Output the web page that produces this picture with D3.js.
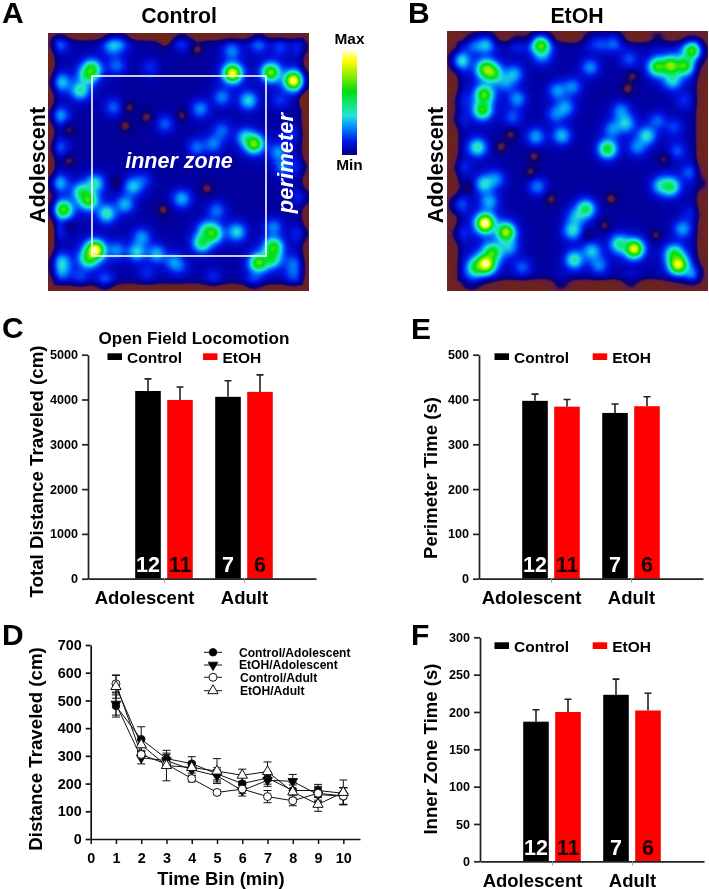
<!DOCTYPE html>
<html><head><meta charset="utf-8">
<script src="https://d3js.org/d3.v7.min.js"></script>
<style>
html,body{margin:0;padding:0;background:#fff;}
#wrap{position:relative;width:709px;height:889px;overflow:hidden;}
canvas{position:absolute;z-index:1;}
svg{position:absolute;left:0;top:0;z-index:2;}
text{font-family:"Liberation Sans",Arial,sans-serif;font-weight:bold;fill:#000;}
</style></head><body><div id="wrap"></div>
<script>
// ---------- data ----------
const groups = ["Adolescent", "Adult"];
const treatments = ["Control", "EtOH"];
const sampleSizes = [12, 11, 7, 6];

const distanceMeans = [4190, 3990, 4060, 4170];
const distanceTops  = [4460, 4280, 4420, 4550];
const distanceTicks = [0, 1000, 2000, 3000, 4000, 5000];

const perimeterMeans = [397, 384, 370, 385];
const perimeterTops  = [412, 400, 390, 406];
const perimeterTicks = [0, 100, 200, 300, 400, 500];

const innerMeans = [187, 200, 223, 202];
const innerTops  = [203, 217, 244, 225];
const innerTicks = [0, 50, 100, 150, 200, 250, 300];

const timeBins = [1, 2, 3, 4, 5, 6, 7, 8, 9, 10];
const timeTicks = [0, 1, 2, 3, 4, 5, 6, 7, 8, 9, 10];
const travelTicks = [0, 100, 200, 300, 400, 500, 600, 700];
const lineNames = ["Control/Adolescent", "EtOH/Adolescent", "Control/Adult", "EtOH/Adult"];
const controlAdolescent = [480, 360, 290, 272, 235, 200, 220, 175, 175, 165];
const controlAdolescentErr = [40, 45, 20, 25, 22, 25, 22, 28, 22, 20];
const etohAdolescent = [487, 293, 283, 250, 228, 175, 212, 208, 160, 155];
const etohAdolescentErr = [40, 22, 22, 22, 22, 20, 22, 25, 25, 30];
const controlAdult = [560, 305, 270, 218, 168, 180, 153, 138, 165, 155];
const controlAdultErr = [30, 10, 8, 12, 8, 15, 22, 18, 25, 30];
const etohAdult = [550, 340, 265, 258, 245, 230, 243, 170, 125, 168];
const etohAdultErr = [42, 20, 55, 20, 45, 22, 35, 25, 25, 45];

// occupancy hot spots: [camera x, camera y, relative occupancy]
const controlSpots = [
[275,205,.5],[262,225,.36],[240,270,.36],[185,245,.28],[180,345,.24],[697,218,.86],[812,215,.66],[880,240,.9],[745,300,.32],
[762,430,.66],[735,410,.26],[600,325,.22],[665,290,.2],[640,430,.2],[590,440,.18],[495,370,.17],[340,320,.17],[665,390,.17],
[180,130,.17],[335,135,.24],[360,128,.16],[545,125,.13],[775,130,.18],[695,150,.2],[350,195,.17],[840,140,.12],[900,140,.11],
[285,750,.95],[265,775,.46],[190,628,.62],[265,600,.54],[245,575,.38],[285,548,.32],[178,548,.26],[320,640,.36],[375,612,.26],
[398,558,.28],[430,540,.12],[545,595,.27],[640,700,.48],[605,728,.44],[620,690,.3],[710,695,.32],[425,710,.22],[410,755,.3],[470,760,.26],
[520,785,.2],[820,740,.54],[775,788,.6],[815,775,.42],[820,680,.2],[185,785,.27],[185,815,.2],[315,840,.15],[880,825,.14],
[835,455,.22],[850,500,.2],[905,590,.13],[650,630,.18],[880,790,.16],[350,750,.2],[180,440,.15],[540,800,.11],[640,830,.1],
[900,700,.11],[870,400,.11],[760,840,.11],[240,830,.11],[440,820,.1],[180,690,.1],[840,300,.11],[900,500,.08],[450,200,.11]];
const etohSpots = [
[285,128,.3],[250,130,.16],[210,180,.36],[285,205,.6],[305,218,.52],[370,220,.24],[345,245,.18],[450,132,.66],[455,165,.18],[280,282,.6],
[275,328,.56],[380,295,.22],[365,350,.15],[435,408,.24],[513,405,.28],[260,440,.38],[500,270,.22],[545,258,.2],[525,320,.22],
[495,340,.18],[598,200,.22],[670,122,.22],[630,122,.16],[840,195,.66],[800,198,.56],[880,195,.56],[905,150,.6],[845,240,.28],
[715,175,.15],[650,445,.54],[705,368,.28],[690,330,.2],[665,385,.2],[768,405,.32],[740,440,.2],[800,360,.16],[860,450,.15],
[840,558,.44],[810,555,.28],[895,515,.15],[280,550,.32],[315,535,.2],[295,603,.24],[205,612,.18],[440,558,.2],[585,625,.46],
[545,690,.32],[555,650,.22],[283,668,.98],[345,695,.72],[285,790,.94],[305,755,.54],[255,800,.44],[355,740,.22],[395,800,.16],
[550,778,.38],[603,752,.28],[625,795,.2],[730,745,.82],[685,730,.38],[862,792,.84],[850,760,.44],[875,685,.24],[905,820,.2],
[510,845,.08],[215,300,.08],[210,355,.08],[880,300,.11],[850,380,.13],[930,550,.06],[215,500,.1],[210,700,.11],[240,840,.11],
[720,840,.08],[800,110,.06],[380,130,.1],[600,120,.1],[900,640,.08]];
// dark patches where the animal never went: [camera x, camera y]
const controlVoids = [[385,320],[440,350],[375,375],[545,345],[205,385],[205,480],[620,565],[490,628],[205,678],[350,548],[495,125],[590,145],[910,300],[150,690]];
const etohVoids = [[360,400],[330,438],[420,515],[430,465],[232,560],[660,595],[480,595],[640,675],[590,705],[795,705],[820,475],[725,225],[710,265]];

// ---------- layout ----------
const wrap = d3.select("#wrap");
const svg = wrap.append("svg").attr("width",709).attr("height",889);
const txt = (g,s,x,y,size,o={}) => {
  const t = g.append("text").attr("x",x).attr("y",y).attr("font-size",size)
    .attr("text-anchor",o.anchor||"start").text(s);
  if(o.fill) t.style("fill",o.fill);
  if(o.italic) t.attr("font-style","italic");
  if(o.rot) t.attr("transform",`rotate(-90 ${x} ${y})`);
  return t;
};

// occupancy colour map, shared by the maps and the key
const occupancyColor = d3.scaleLinear()
  .domain([-0.07,-0.03,0.0,0.06,0.15,0.29,0.40,0.50,0.63,0.82,0.93,1.03])
  .range(["#6e2418","#5e1c40","#0a0070","#0000a8","#0018e8","#0090ff","#28e0d8","#10e880","#00dd10","#a8f000","#ffff00","#ffffd8"])
  .clamp(true);

function heatmap(spots, voids, box, dom, edge){
  const W = box.x1-box.x0, H = box.y1-box.y0;
  const sx = d3.scaleLinear().domain(dom.x).range([0,W]);
  const sy = d3.scaleLinear().domain(dom.y).range([0,H]);
  const c = wrap.append("canvas").attr("width",W).attr("height",H)
    .style("left",box.x0+"px").style("top",box.y0+"px").node();
  const ctx = c.getContext("2d"), im = ctx.createImageData(W,H);
  const pts = spots.map(d=>[sx(d[0]),sy(d[1]),d[2]]);
  const holes = voids.map(d=>[sx(d[0]),sy(d[1])]);
  const ss = (a,b,v)=>{const t=Math.max(0,Math.min(1,(v-a)/(b-a)));return t*t*(3-2*t);};
  for(let j=0;j<H;j++)for(let i=0;i<W;i++){
    let p=1, halo=0;
    for(const q of pts){
      const d2=(i-q[0])**2+(j-q[1])**2;
      p*=1-q[2]*Math.exp(-d2/(2*6.2*6.2));
      halo+=q[2]*Math.exp(-d2/(2*12*12));
    }
    const e=Math.min(i,j,W-1-i,H-1-j);
    let v=(1-p)*0.95+Math.min(halo,1)*0.1;
    v+= -0.07+0.115*ss(edge[0],edge[1],e);
    for(const h of holes){
      const d2=(i-h[0])**2+(j-h[1])**2;
      v-=0.085*Math.exp(-d2/(2*4.8*4.8));
    }
    const col=d3.rgb(occupancyColor(v));
    const k=(j*W+i)*4;
    im.data[k]=col.r;im.data[k+1]=col.g;im.data[k+2]=col.b;im.data[k+3]=255;
  }
  ctx.putImageData(im,0,0);
}
heatmap(controlSpots,controlVoids,{x0:48,x1:309,y0:33,y1:291},{x:[145,928],y:[98,874]},[2,13]);
heatmap(etohSpots,etohVoids,{x0:447,x1:708,y0:31,y1:291},{x:[170,953],y:[92,873]},[6,18]);

// colour key
(function(){
  const y0=50,y1=155,c=wrap.append("canvas").attr("width",15).attr("height",y1-y0)
    .style("left","342px").style("top",y0+"px").node(),ctx=c.getContext("2d");
  const sv=d3.scaleLinear().domain([0,y1-y0]).range([1.03,0.01]);
  d3.range(y1-y0).forEach(r=>{ctx.fillStyle=occupancyColor(sv(r));ctx.fillRect(0,r,15,1);});
})();

const top_ = svg.append("g");
txt(top_,"Max",349.5,44,15.4,{anchor:"middle"});
txt(top_,"Min",349.5,170,15.4,{anchor:"middle"});
top_.append("rect").attr("x",92).attr("y",76).attr("width",174).attr("height",180)
  .attr("fill","none").attr("stroke","#fff").attr("stroke-width",1.6);
txt(top_,"inner zone",179,168,21.5,{anchor:"middle",fill:"#fff",italic:true});
txt(top_,"perimeter",293,163,22,{anchor:"middle",fill:"#fff",italic:true,rot:true});
txt(top_,"Control",179,23,21.3,{anchor:"middle"});
txt(top_,"EtOH",577,23,21.3,{anchor:"middle"});
txt(top_,"Adolescent",45,165,21.6,{anchor:"middle",rot:true});
txt(top_,"Adolescent",443,165,21.6,{anchor:"middle",rot:true});
[["A",2,23],["B",408,23],["C",2,338],["D",2,645],["E",411,339],["F",411,645]]
  .forEach(d=>txt(top_,d[0],d[1],d[2],30));

// ---------- bar panels ----------
function barPanel(o){
  const g=svg.append("g");
  const y=d3.scaleLinear().domain(o.domain).range([o.y0,o.yTop]);
  const gx=d3.scaleBand().domain(groups).range([o.cx-40,o.cx+120]);
  const tx=d3.scaleBand().domain(treatments).range([-32,32]).paddingInner(.2).paddingOuter(.1);
  const rows=[];
  groups.forEach((gr,i)=>treatments.forEach((t,j)=>{const k=i*2+j;
    rows.push({gr,t,mean:o.means[k],top:o.tops[k],n:sampleSizes[k]});}));
  const color=d3.scaleOrdinal().domain(treatments).range(["#000000","#ff0000"]);
  const bx=d=>gx(d.gr)+gx.bandwidth()/2+tx(d.t);
  const w=tx.bandwidth();
  g.selectAll(".eb").data(rows).join("path").attr("fill","none").attr("stroke","#222").attr("stroke-width",1.6)
    .attr("d",d=>{const c=bx(d)+w/2;return `M${c},${y(d.mean)}V${y(d.top)}M${c-3.5},${y(d.top)}H${c+3.5}`;});
  g.selectAll(".bar").data(rows).join("rect")
    .attr("x",bx).attr("width",w).attr("y",d=>y(d.mean)).attr("height",d=>y(0)-y(d.mean))
    .attr("fill",d=>color(d.t));
  g.selectAll(".n").data(rows).join("text")
    .attr("x",d=>bx(d)+w/2).attr("y",o.y0-6.5).attr("text-anchor","middle").attr("font-size",21.5)
    .style("fill",d=>d.t==="Control"?"#fff":"#1a0000").text(d=>d.n);
  const ya=g.append("g").attr("transform",`translate(${o.ax},0)`)
    .call(d3.axisLeft(y).tickValues(o.ticks).tickSize(6).tickSizeOuter(0).tickPadding(4).tickFormat(d3.format("d")));
  ya.selectAll("path,line").attr("stroke","#222").attr("stroke-width",1.7);
  ya.selectAll("text").attr("font-size",12.6).attr("font-family",null);
  const xScale=d3.scaleLinear().domain([o.ax,o.xEnd]).range([o.ax,o.xEnd]);
  const xa=g.append("g").attr("transform",`translate(0,${o.y0})`)
    .call(d3.axisBottom(xScale).tickValues(groups.map(d=>gx(d)+gx.bandwidth()/2)).tickSize(4).tickSizeOuter(0).tickFormat(""));
  xa.select("path").attr("stroke","#222").attr("stroke-width",1.7);
  xa.selectAll("line").attr("stroke","#999").attr("stroke-width",1);
  txt(g,"Adolescent",o.cx-19.5,o.y0+25.5,18.5,{anchor:"middle"});
  txt(g,"Adult",o.cx+80.5,o.y0+25.5,18.5,{anchor:"middle"});
  txt(g,o.label,o.labelX,o.labelY,o.labelSize,{anchor:"middle",rot:true});
  treatments.forEach((t,i)=>{
    g.append("rect").attr("x",o.leg[i]).attr("y",o.legY).attr("width",14.5).attr("height",6.7).attr("fill",color(t));
    txt(g,t,o.leg[i]+(o.legGap||19.5),o.legY+9.3,15.5);
  });
}
barPanel({means:distanceMeans,tops:distanceTops,ticks:distanceTicks,domain:[0,5000],y0:578.7,yTop:354.7,ax:88,xEnd:316,cx:164,
  label:"Total Distance Traveled (cm)",labelX:43,labelY:471.5,labelSize:18.7,leg:[107.5,203],legY:353.3});
barPanel({means:perimeterMeans,tops:perimeterTops,ticks:perimeterTicks,domain:[0,500],y0:578.7,yTop:354.7,ax:479,xEnd:703,cx:551,
  label:"Perimeter Time (s)",labelX:437,labelY:478,labelSize:18.6,leg:[494.5,592.7],legY:353.3});
barPanel({means:innerMeans,tops:innerTops,ticks:innerTicks,domain:[0,300],y0:861.3,yTop:637.3,ax:480,xEnd:704,cx:552,
  label:"Inner Zone Time (s)",labelX:437,labelY:749,labelSize:18.6,leg:[494.5,592.7],legY:642.3});
txt(svg,"Open Field Locomotion",194,344,17.1,{anchor:"middle"});

// ---------- line panel ----------
(function(){
  const g=svg.append("g");
  const x=d3.scaleLinear().domain([0,10]).range([90.7,343.3]);
  const y=d3.scaleLinear().domain([0,700]).range([839,645]);
  const means=[controlAdolescent,etohAdolescent,controlAdult,etohAdult];
  const errs=[controlAdolescentErr,etohAdolescentErr,controlAdultErr,etohAdultErr];
  const sym=[
    {type:d3.symbolCircle,size:44,fill:"#000",rot:0},
    {type:d3.symbolTriangle,size:40,fill:"#000",rot:180},
    {type:d3.symbolCircle,size:50,fill:"#fff",rot:0},
    {type:d3.symbolTriangle,size:46,fill:"#fff",rot:0}];
  const line=d3.line().x((d,i)=>x(timeBins[i])).y(d=>y(d));
  means.forEach((m,s)=>{
    g.append("path").datum(m).attr("fill","none").attr("stroke","#111").attr("stroke-width",1).attr("d",line);
  });
  means.forEach((m,s)=>{
    timeBins.forEach((b,i)=>{
      const c=x(b),hi=y(m[i]+errs[s][i]),lo=y(m[i]-errs[s][i]);
      g.append("path").attr("fill","none").attr("stroke","#111").attr("stroke-width",1)
       .attr("d",`M${c},${lo}V${hi}M${c-4},${hi}H${c+4}M${c-4},${lo}H${c+4}`);
    });
  });
  means.forEach((m,s)=>{
    g.selectAll(null).data(m).join("path")
      .attr("d",d3.symbol().type(sym[s].type).size(sym[s].size))
      .attr("transform",(d,i)=>`translate(${x(timeBins[i])},${y(d)}) rotate(${sym[s].rot})`)
      .attr("fill",sym[s].fill).attr("stroke","#111").attr("stroke-width",1);
  });
  const ya=g.append("g").attr("transform","translate(90.7,0)")
    .call(d3.axisLeft(y).tickValues(travelTicks).tickSize(5).tickSizeOuter(0).tickPadding(4));
  ya.selectAll("path,line").attr("stroke","#111").attr("stroke-width",1.7);
  ya.selectAll("text").attr("font-size",14.4).attr("font-family",null);
  const xAxisScale=d3.scaleLinear().domain([0,10.66]).range([90.7,360]);
  const xa=g.append("g").attr("transform","translate(0,839)")
    .call(d3.axisBottom(xAxisScale).tickValues(timeTicks).tickSize(5).tickSizeOuter(0).tickPadding(9).tickFormat(d3.format("d")));
  xa.selectAll("path,line").attr("stroke","#111").attr("stroke-width",1.5);
  xa.selectAll("text").attr("font-size",14.4).attr("font-family",null);
  txt(g,"Time Bin (min)",221,885,18.4,{anchor:"middle"});
  txt(g,"Distance Traveled (cm)",42,749,18.7,{anchor:"middle",rot:true});
  const lx=[204,222], ly=[652.3,665,677.3,690.7], tx=[239,239,240,240];
  lineNames.forEach((n,i)=>{
    g.append("line").attr("x1",lx[0]).attr("x2",lx[1]).attr("y1",ly[i]).attr("y2",ly[i]).attr("stroke","#111");
    g.append("path").attr("d",d3.symbol().type(sym[i].type).size(sym[i].size))
      .attr("transform",`translate(${(lx[0]+lx[1])/2},${ly[i]}) rotate(${sym[i].rot})`)
      .attr("fill",sym[i].fill).attr("stroke","#111");
    txt(g,n,tx[i],ly[i]+4.3,12.1);
  });
})();
</script></body></html>
